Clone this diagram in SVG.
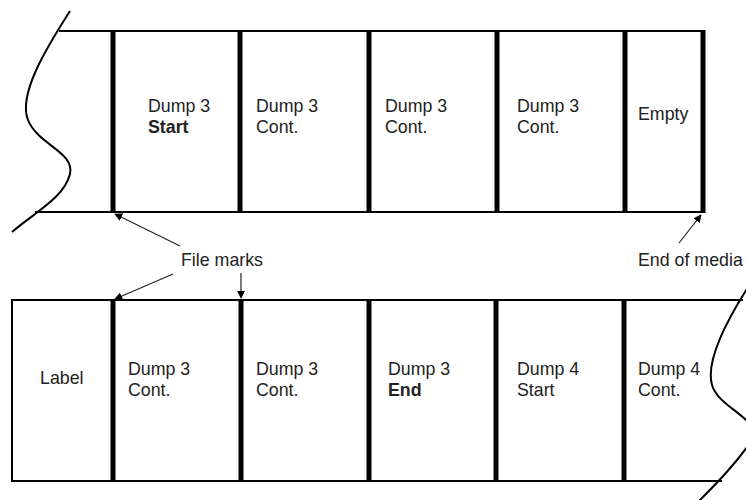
<svg xmlns="http://www.w3.org/2000/svg" width="746" height="500" viewBox="0 0 746 500">
  <defs>
    <style>
      .edge { stroke: #000; stroke-width: 2; fill: none; }
      .mark { stroke: #000; stroke-width: 5; fill: none; }
      .wave { stroke: #000; stroke-width: 2; fill: none; }
      .ptr { stroke: #222; stroke-width: 1.2; fill: none; marker-end: url(#head); }
      text { font-family: "Liberation Sans", Arial, sans-serif; font-size: 17.8px; fill: #222; }
      .b { font-weight: bold; }
    </style>
    <marker id="head" viewBox="0 0 10 10" refX="9" refY="5" markerWidth="8" markerHeight="8" markerUnits="userSpaceOnUse" orient="auto">
      <path d="M0,0 L10,5 L0,10 z" fill="#000"/>
    </marker>
  </defs>
  <rect width="746" height="500" fill="#fff"/>

  <!-- upper tape segment -->
  <g id="tape-top">
    <line class="edge" x1="59" y1="31" x2="704" y2="31"/>
    <line class="edge" x1="35" y1="212" x2="704" y2="212"/>
    <path class="wave" d="M70,11 C45,50 18,95 28,120 C38,145 75,152 70,174 C64,198 35,212 12,232"/>
  </g>
  <g id="top-1">
    <line class="mark" x1="113" y1="31" x2="113" y2="213"/>
    <text x="148" y="112">Dump 3</text>
    <text class="b" x="148" y="133">Start</text>
  </g>
  <g id="top-2">
    <line class="mark" x1="240" y1="31" x2="240" y2="213"/>
    <text x="256" y="112">Dump 3</text>
    <text x="256" y="133">Cont.</text>
  </g>
  <g id="top-3">
    <line class="mark" x1="369" y1="31" x2="369" y2="213"/>
    <text x="385" y="112">Dump 3</text>
    <text x="385" y="133">Cont.</text>
  </g>
  <g id="top-4">
    <line class="mark" x1="497" y1="31" x2="497" y2="213"/>
    <text x="517" y="112">Dump 3</text>
    <text x="517" y="133">Cont.</text>
  </g>
  <g id="top-5">
    <line class="mark" x1="625" y1="31" x2="625" y2="213"/>
    <text x="638" y="120">Empty</text>
  </g>
  <g id="top-end">
    <line class="mark" x1="703" y1="30" x2="703" y2="213"/>
  </g>

  <!-- lower tape segment -->
  <g id="tape-bottom">
    <line class="edge" x1="12" y1="300" x2="743" y2="300"/>
    <line class="edge" x1="12" y1="481" x2="722" y2="481"/>
    <line class="edge" x1="12" y1="299" x2="12" y2="482"/>
    <path class="wave" d="M750,284 C728,318 705,360 712,385 C718,405 745,412 760,436 M752,440 C735,465 715,485 698,502"/>
  </g>
  <g id="bot-1">
    <text x="40" y="384">Label</text>
  </g>
  <g id="bot-2">
    <line class="mark" x1="113" y1="300" x2="113" y2="481"/>
    <text x="128" y="375">Dump 3</text>
    <text x="128" y="396">Cont.</text>
  </g>
  <g id="bot-3">
    <line class="mark" x1="241" y1="300" x2="241" y2="481"/>
    <text x="256" y="375">Dump 3</text>
    <text x="256" y="396">Cont.</text>
  </g>
  <g id="bot-4">
    <line class="mark" x1="369" y1="300" x2="369" y2="481"/>
    <text x="388" y="375">Dump 3</text>
    <text class="b" x="388" y="396">End</text>
  </g>
  <g id="bot-5">
    <line class="mark" x1="496" y1="300" x2="496" y2="481"/>
    <text x="517" y="375">Dump 4</text>
    <text x="517" y="396">Start</text>
  </g>
  <g id="bot-6">
    <line class="mark" x1="624" y1="300" x2="624" y2="481"/>
    <text x="638" y="375">Dump 4</text>
    <text x="638" y="396">Cont.</text>
  </g>

  <!-- callouts -->
  <g id="label-filemarks">
    <text x="181" y="266">File marks</text>
  </g>
  <g id="label-eom">
    <text x="638" y="266">End of media</text>
  </g>
  <g id="connectors">
    <line class="ptr" x1="180" y1="246" x2="115" y2="214"/>
    <line class="ptr" x1="173" y1="274" x2="115" y2="299"/>
    <line class="ptr" x1="241" y1="273" x2="241" y2="298"/>
    <line class="ptr" x1="679" y1="243" x2="701" y2="215"/>
  </g>
</svg>
